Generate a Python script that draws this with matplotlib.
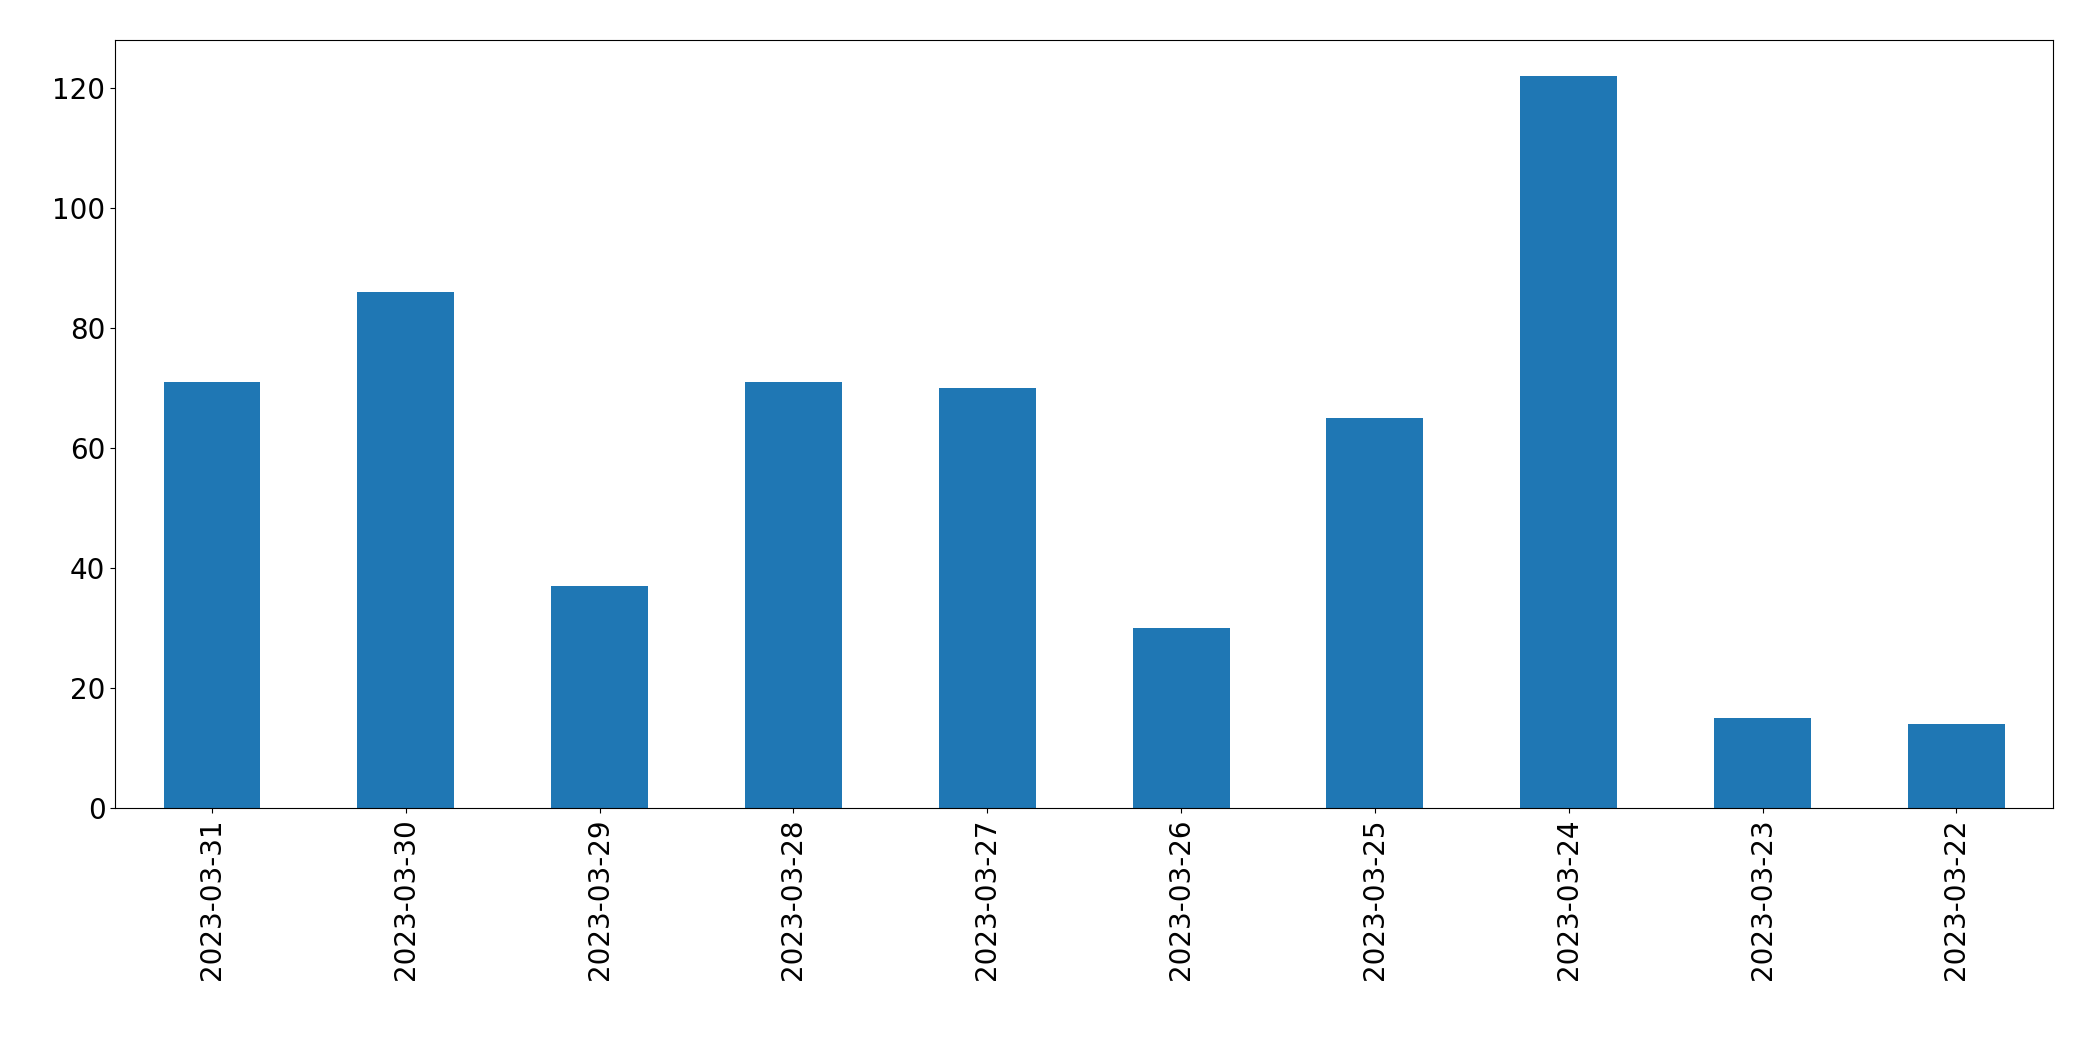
import matplotlib
matplotlib.use("Agg")
import matplotlib.pyplot as plt

dates = ["2023-03-31","2023-03-30","2023-03-29","2023-03-28","2023-03-27",
         "2023-03-26","2023-03-25","2023-03-24","2023-03-23","2023-03-22"]
counts = [71, 86, 37, 71, 70, 30, 65, 122, 15, 14]

fig, ax = plt.subplots(figsize=(20.93, 10.61), dpi=100)
fig.subplots_adjust(left=0.055, right=0.981, top=0.962, bottom=0.238)
x = range(len(dates))
ax.bar(x, counts, width=0.5, color="#1f77b4")
ax.set_xticks(list(x))
ax.set_xticklabels(dates, rotation=90, fontsize=20)
ax.tick_params(axis="y", labelsize=20)
ax.set_xlim(-0.5, len(dates) - 0.5)
ax.set_ylim(0, 128)
fig.savefig("out.png", dpi=100)
